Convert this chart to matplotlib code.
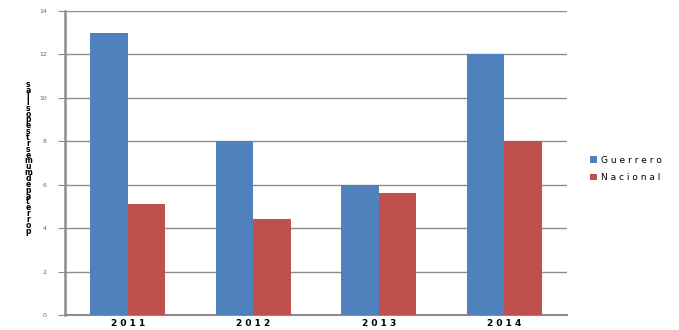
import matplotlib
matplotlib.use("Agg")
import matplotlib.pyplot as plt
import numpy as np

years = ["2011", "2012", "2013", "2014"]
guerrero = [13.0, 8.0, 6.0, 12.0]
nacional = [5.1, 4.4, 5.6, 8.0]
yticks = [0, 2, 4, 6, 8, 10, 12, 14]
ylabel_chars = "sallsopestrsemumdepaterrop"

fig = plt.figure(figsize=(6.79, 3.30), dpi=100)
ax = fig.add_axes([65/679, 15/330, (567-65)/679, (315-11)/330])

x = np.arange(len(years))
w = 0.3
ax.bar(x - w/2, guerrero, width=w, color="#4F81BD", label="G u e r r e r o", zorder=3)
ax.bar(x + w/2, nacional, width=w, color="#C0504D", label="N a c i o n a l", zorder=3)

ax.set_xlim(-0.5, 3.5)
ax.set_ylim(0, 14)
ax.set_yticks(yticks)
ax.set_yticklabels([str(t) for t in yticks], fontsize=4.5, color="#666666")
ax.set_xticks(x)
ax.set_xticklabels([" ".join(y) for y in years], fontsize=6.5, fontweight="bold")
ax.yaxis.grid(True, color="#8c8c8c", linewidth=1, zorder=0)
ax.set_axisbelow(True)
for s in ["top", "right"]:
    ax.spines[s].set_visible(False)
ax.spines["left"].set_color("#8c8c8c")
ax.spines["left"].set_linewidth(1.8)
ax.spines["bottom"].set_color("#8c8c8c")
ax.spines["bottom"].set_linewidth(1.5)
ax.tick_params(axis="y", length=5, color="#8c8c8c", pad=8)
ax.tick_params(axis="x", length=0, pad=3)

fig.text(28/679, 1 - 158/330, "\n".join(ylabel_chars), fontsize=5.5, fontweight="bold",
         ha="center", va="center", linespacing=0.55)

leg = ax.legend(loc="center left", bbox_to_anchor=(1.03, 0.48), frameon=False,
                fontsize=6.5, handlelength=0.8, handleheight=0.8, handletextpad=0.4,
                labelspacing=0.9)

fig.savefig("out.png", dpi=100)
